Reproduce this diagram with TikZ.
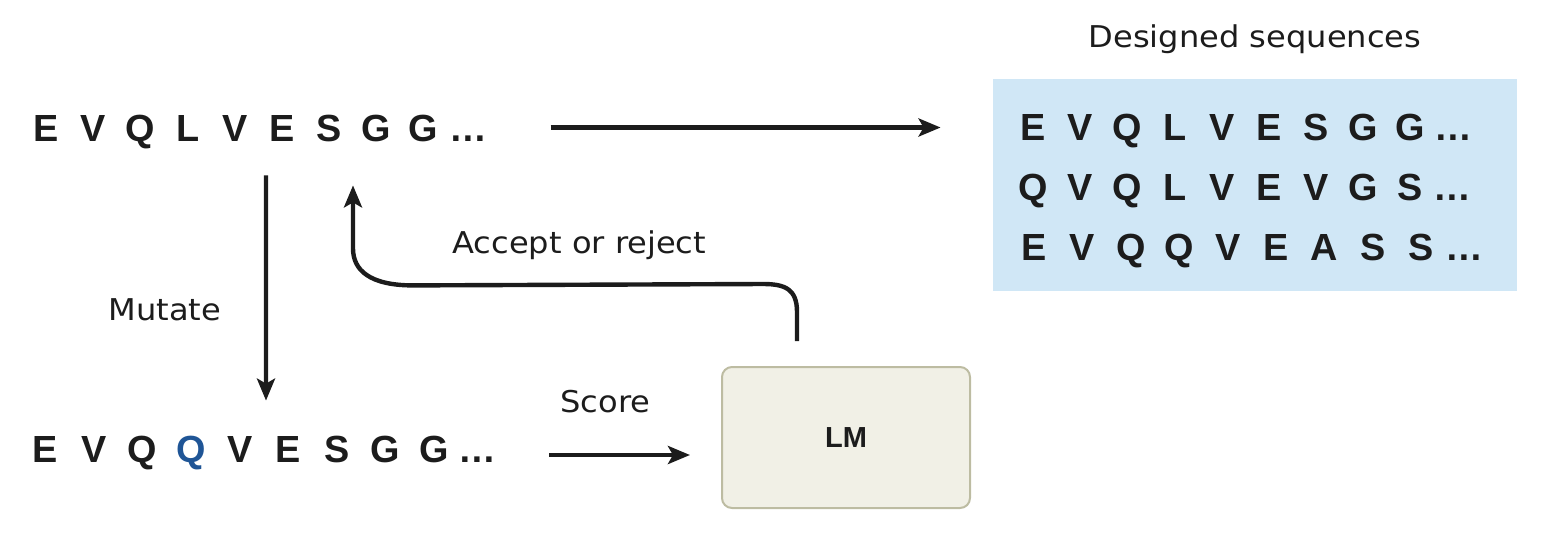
\documentclass[tikz,border=0pt]{standalone}
\usepackage{fontspec}
\setmainfont{Liberation Sans}
\newfontfamily\lblfont[FakeStretch=1.07]{DejaVu Sans}
\usetikzlibrary{arrows.meta,calc}
\definecolor{ink}{HTML}{1C1C1C}
\definecolor{qblue}{HTML}{1F5596}
\definecolor{boxblue}{HTML}{D0E7F6}
\definecolor{lmfill}{HTML}{F1F0E6}
\definecolor{lmedge}{HTML}{BDBCA2}
\newlength\lw
\newcommand\lt[1]{\makebox[\lw][c]{#1}}
\begin{document}
\begin{tikzpicture}[x=0.5pt,y=-0.5pt,
  seqtext/.style={font=\bfseries\fontsize{18.9pt}{20pt}\selectfont, text=ink, inner sep=0pt, text height=13.5pt, text depth=0pt, anchor=base west},
  lbl/.style={font=\lblfont\fontsize{15pt}{17pt}\selectfont, text=ink, inner sep=0pt},
  arr/.style={-{Stealth[length=11pt,width=9pt,inset=2.5pt]}, line width=2.2pt, draw=ink},
]
\useasboundingbox (0,0) rectangle (1552,542);

% sequences
\node[seqtext] (seq1) at (22.5,141) {\setlength\lw{23.55pt}\lt{E}\lt{V}\lt{Q}\lt{L}\lt{V}\lt{E}\lt{S}\lt{G}\lt{G}\hspace{1.3pt}…};
\node[seqtext] (seq2) at (20.7,462) {\setlength\lw{24.3pt}\lt{E}\lt{V}\lt{Q}\lt{\textcolor{qblue}{Q}}\lt{V}\lt{E}\lt{S}\lt{G}\lt{G}\hspace{0.2pt}…};

% designed sequences box
\node[fill=boxblue, minimum width=262pt, minimum height=106pt, inner sep=0pt] (dbox) at (1255,185) {};
\node[lbl, anchor=base] (dtitle) at (1255,47) {Designed sequences};
\node[seqtext] (d1) at (1009.5,140) {\setlength\lw{23.55pt}\lt{E}\lt{V}\lt{Q}\lt{L}\lt{V}\lt{E}\lt{S}\lt{G}\lt{G}\hspace{0.5pt}…};
\node[seqtext] (d2) at (1009.5,200) {\setlength\lw{23.55pt}\lt{Q}\lt{V}\lt{Q}\lt{L}\lt{V}\lt{E}\lt{V}\lt{G}\lt{S}\hspace{0pt}…};
\node[seqtext] (d3) at (1009.5,260) {\setlength\lw{24.2pt}\lt{E}\lt{V}\lt{Q}\lt{Q}\lt{V}\lt{E}\lt{A}\lt{S}\lt{S}\hspace{0pt}…};

% LM box
\node[draw=lmedge, fill=lmfill, line width=1pt, rounded corners=5pt, minimum width=124pt, minimum height=70.5pt, inner sep=0pt, font=\bfseries\fontsize{14.5pt}{16pt}\selectfont, text=ink, text height=10.4pt, text depth=0pt] (lm) at (846,437.5) {LM};

% labels
\node[lbl, anchor=base west] (mut) at (108,320) {Mutate};
\node[lbl, anchor=base west] (score) at (560,412) {Score};
\node[lbl, anchor=base west] (acc) at (452,253) {Accept or reject};

% connectors
\draw[arr] ($(seq1.east)+(63,0)$) -- ($(dbox.west |- seq1.east)+(-52,0)$);
\draw[arr] ($(seq1.south west)+(243.5,34)$) -- ($(seq2.north west)+(245.3,-34)$);
\draw[arr] ($(seq2.east)+(52,6.5)$) -- ($(lm.west)+(-31,17.5)$);

\coordinate (acc0) at ($(lm.north)+(-49,-25)$);
\coordinate (acc1) at ($(seq1.south west)+(330.5,44)$);
\draw[arr] (acc0) -- ($(acc0)+(0,-29)$)
  .. controls ($(acc0)+(0,-52)$) and ($(acc0)+(-12,-57)$) .. ($(acc0)+(-34,-57)$)
  -- ($(acc1)+(60,100)$)
  .. controls ($(acc1)+(17,100)$) and ($(acc1)+(0,85)$) .. ($(acc1)+(0,63)$)
  -- (acc1);
\end{tikzpicture}
\end{document}
